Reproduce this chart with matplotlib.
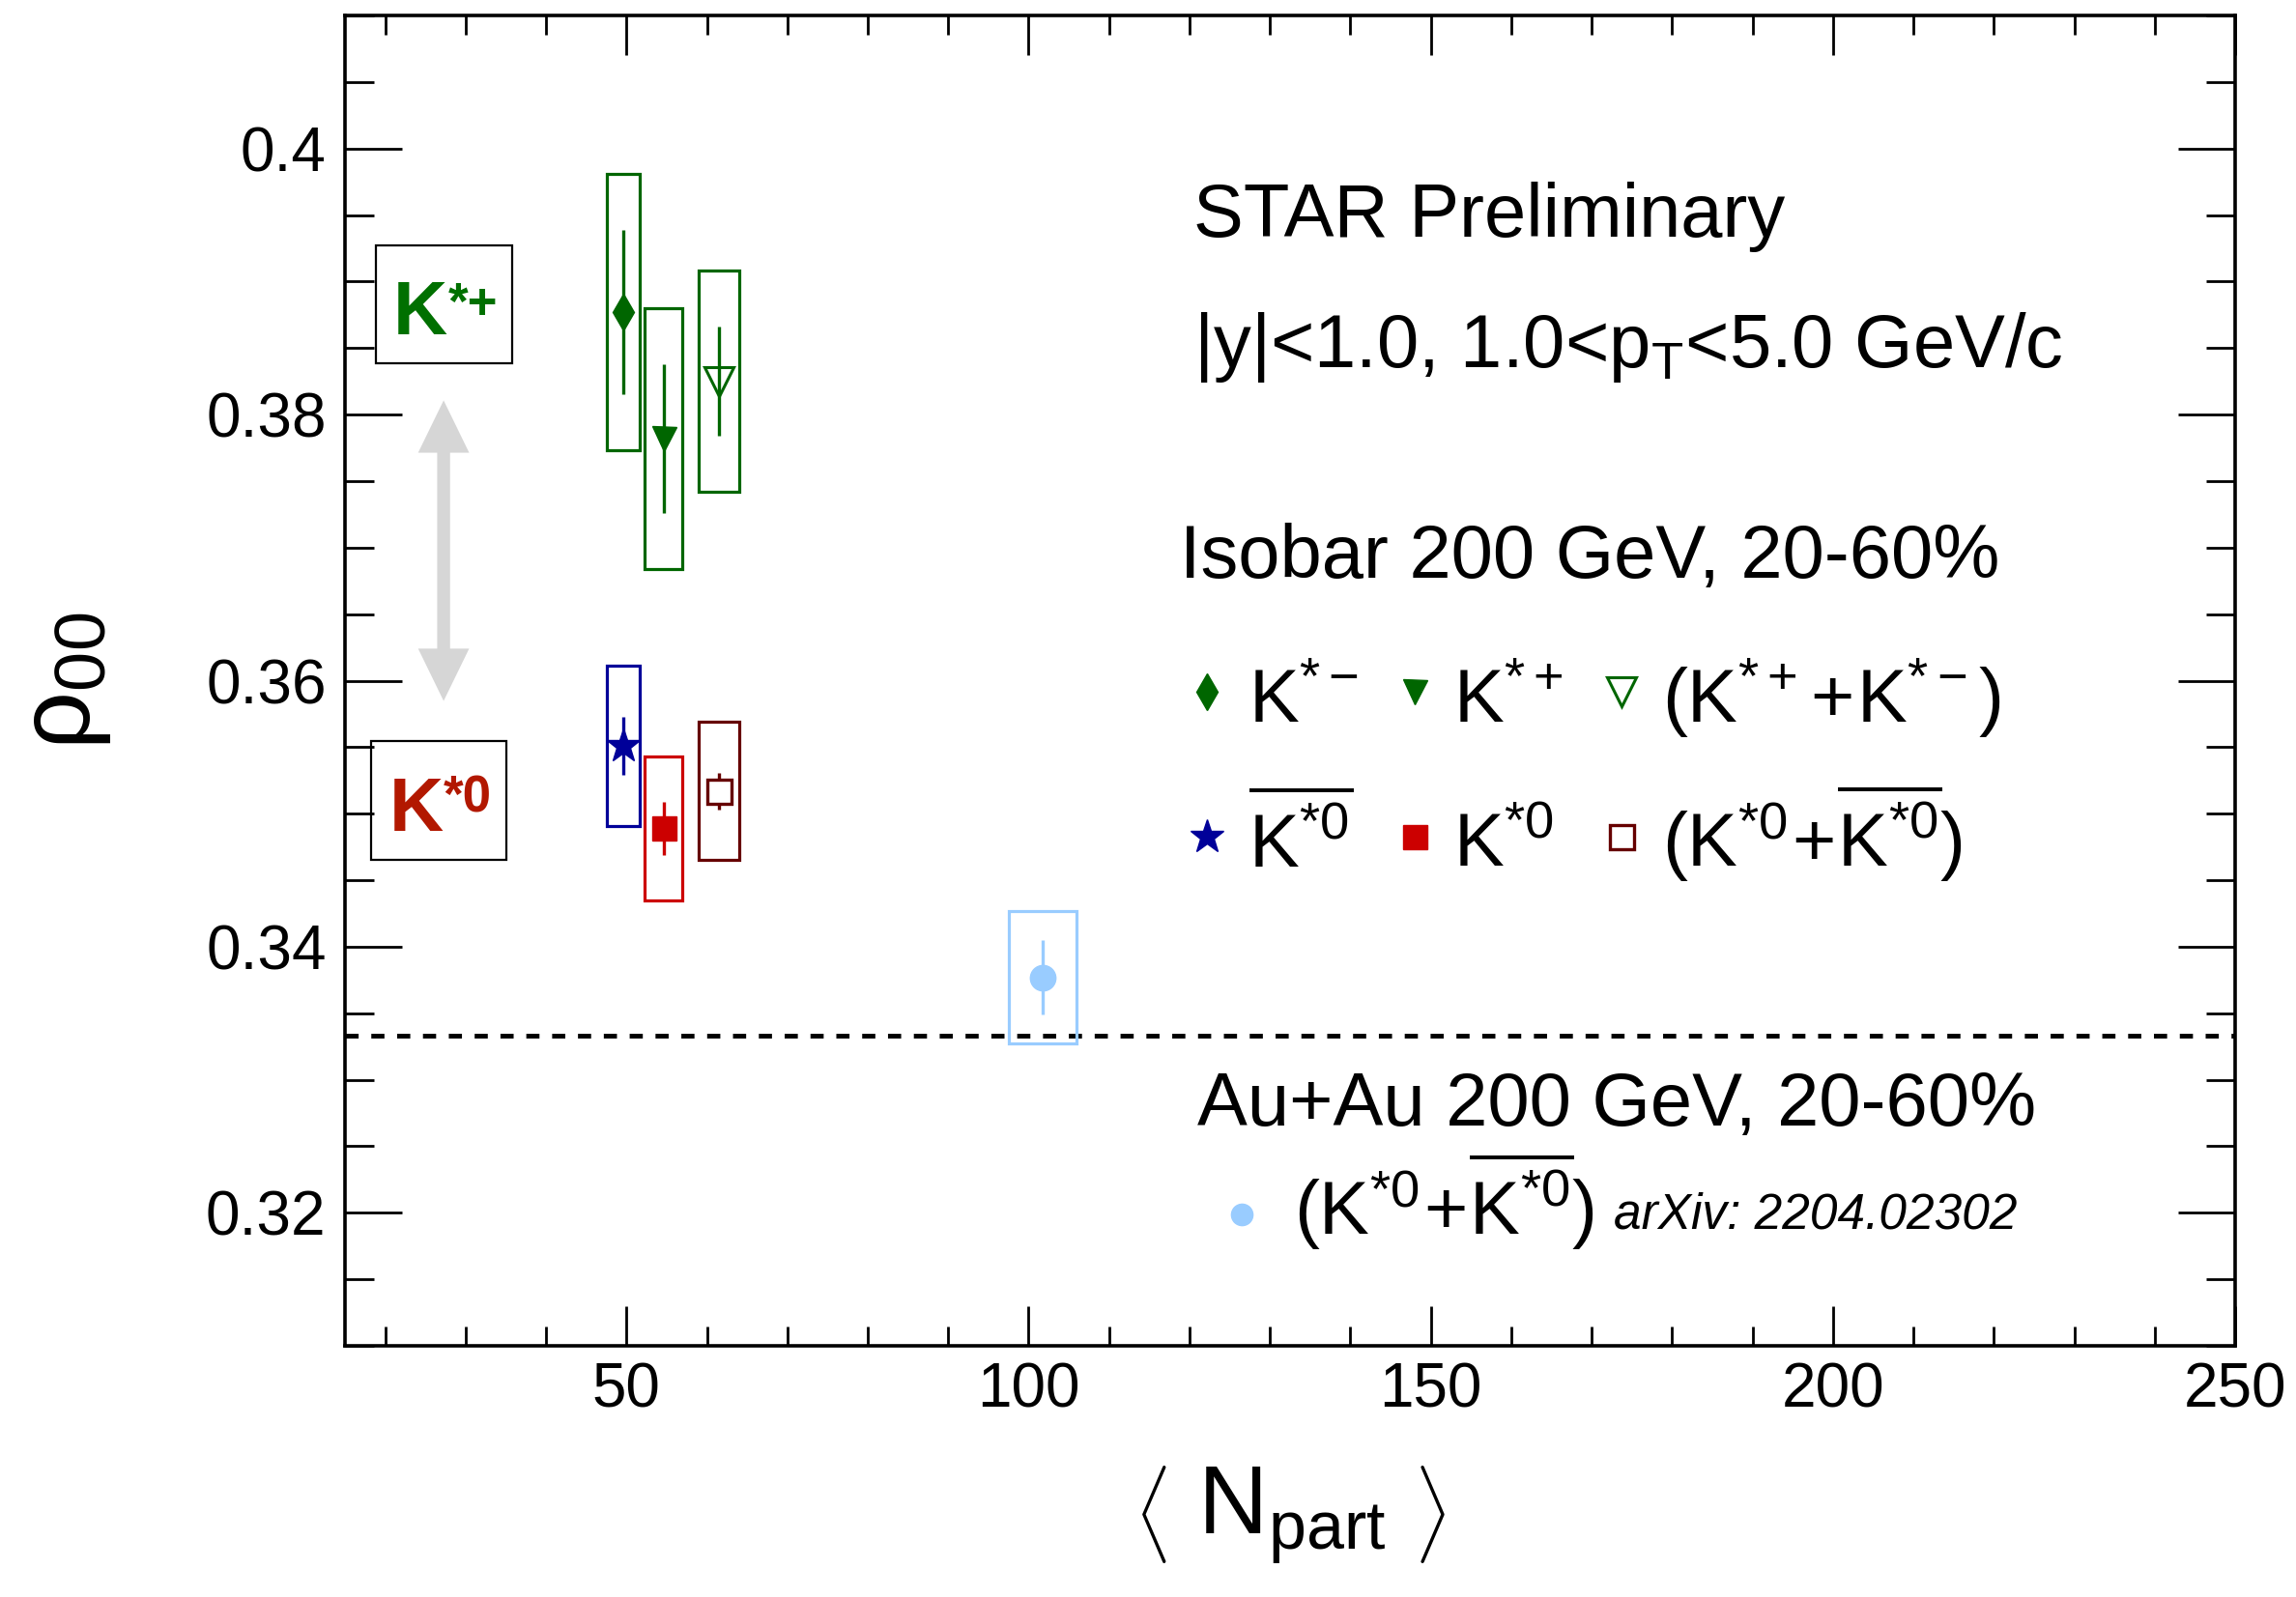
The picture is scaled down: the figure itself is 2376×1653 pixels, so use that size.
import numpy as np
import matplotlib
matplotlib.use("Agg")
import matplotlib.pyplot as plt
import matplotlib.transforms as mtransforms
from matplotlib.patches import Rectangle, Polygon
from matplotlib.ticker import MultipleLocator, FuncFormatter

plt.rcParams['font.family'] = ['Liberation Sans', 'DejaVu Sans']
plt.rcParams['mathtext.fontset'] = 'custom'
plt.rcParams['mathtext.rm'] = 'Liberation Sans'
plt.rcParams['mathtext.it'] = 'Liberation Sans:italic'
plt.rcParams['mathtext.bf'] = 'Liberation Sans:bold'
plt.rcParams['mathtext.sf'] = 'Liberation Sans'

# Isobar 200 GeV, 20-60%: <Npart> per species (slightly shifted for visibility)
isobar_npart = [49.6, 54.6, 61.5]
box_halfwidth = [2.1, 2.3, 2.55]

# charged K*: K*-, K*+, (K*+ + K*-)
rho_charged = [0.3877, 0.3782, 0.3825]
stat_charged = [0.0062, 0.0056, 0.0041]
sys_charged = [0.0104, 0.0098, 0.0083]

# neutral K*: K*0bar, K*0, (K*0 + K*0bar)
rho_neutral = [0.3551, 0.3489, 0.3517]
stat_neutral = [0.0022, 0.0020, 0.0014]
sys_neutral = [0.0060, 0.0054, 0.0052]

# Au+Au 200 GeV, 20-60% (arXiv: 2204.02302)
auau_npart = [101.7]
auau_rho = [0.3377]
auau_stat = [0.0028]
auau_sys = [0.0050]
auau_halfwidth = [4.2]

rho_nospin = 1.0 / 3.0

green = '#006600'
charged_style = [
    dict(marker='d', color=green, mfc=green, ms=19),
    dict(marker='v', color=green, mfc=green, ms=18),
    dict(marker='v', color=green, mfc='none', ms=21, mew=2.2),
]
neutral_style = [
    dict(marker='*', color='#000099', mfc='#000099', ms=26),
    dict(marker='s', color='#cc0000', mfc='#cc0000', ms=18),
    dict(marker='s', color='#660000', mfc='white', ms=18, mew=2.4),
]
auau_style = dict(marker='o', color='#99ccff', mfc='#99ccff', ms=19)

fig = plt.figure(figsize=(23.76, 16.53), dpi=100)
ax = fig.add_axes([0.15025, 0.15729, 0.82323, 0.83303])


def draw_points(x, y, stat, sys, hw, style):
    c = style['color']
    ax.add_patch(Rectangle((x - hw, y - sys), 2 * hw, 2 * sys, fill=False,
                           edgecolor=c, lw=2.3, zorder=2))
    ax.errorbar([x], [y], yerr=[stat], fmt=style['marker'], color=c,
                mfc=style['mfc'], mec=c, ms=style['ms'], mew=style.get('mew', 1),
                elinewidth=2.4, capsize=0, zorder=3)


for i in range(3):
    draw_points(isobar_npart[i], rho_charged[i], stat_charged[i], sys_charged[i],
                box_halfwidth[i], charged_style[i])
    draw_points(isobar_npart[i], rho_neutral[i], stat_neutral[i], sys_neutral[i],
                box_halfwidth[i], neutral_style[i])
draw_points(auau_npart[0], auau_rho[0], auau_stat[0], auau_sys[0],
            auau_halfwidth[0], auau_style)

ax.axhline(rho_nospin, color='black', lw=3.5, dashes=(2.8, 2.7), zorder=1)

ax.set_xlim(15, 250)
ax.set_ylim(0.31, 0.41)
ax.xaxis.set_major_locator(MultipleLocator(50))
ax.xaxis.set_minor_locator(MultipleLocator(10))
ax.yaxis.set_major_locator(MultipleLocator(0.02))
ax.yaxis.set_minor_locator(MultipleLocator(0.005))
ax.yaxis.set_major_formatter(FuncFormatter(lambda v, p: '%g' % round(v, 4)))

ax.tick_params(which='both', direction='in', top=True, right=True, width=2)
ax.tick_params(axis='x', which='major', length=29.5, labelsize=46, pad=12)
ax.tick_params(axis='x', which='minor', length=14.5)
ax.tick_params(axis='y', which='major', length=42.5, labelsize=46, pad=14)
ax.tick_params(axis='y', which='minor', length=21.5)
for sp in ax.spines.values():
    sp.set_linewidth(2.6)

ax.set_xlabel(r'$\left\langle\ \mathrm{N}_{\mathrm{part}}\ \right\rangle$', fontsize=72)
ax.xaxis.set_label_coords(0.5, -0.127)
ax.xaxis.label.set_va('center')
ax.set_ylabel(r'$\mathrm{\rho}_{\mathrm{00}}$', fontsize=76)
ax.yaxis.set_label_coords(-0.148, 0.5)
ax.yaxis.label.set_va('center')

# species labels and the gap arrow on the left
T = ax.transAxes
ax.add_patch(Rectangle((0.0164, 0.7386), 0.0721, 0.0886, transform=T, fill=False,
                       edgecolor='black', lw=1.6, zorder=4))
ax.text(0.0255, 0.7603, 'K', transform=T, color='#007000', fontsize=56,
        fontweight='bold', va='baseline', zorder=5)
ax.text(0.0545, 0.7720, '*+', transform=T, color='#007000', fontsize=38,
        fontweight='bold', va='baseline', zorder=5)
ax.add_patch(Rectangle((0.0140, 0.3654), 0.0712, 0.0894, transform=T, fill=False,
                       edgecolor='black', lw=1.6, zorder=4))
ax.text(0.0235, 0.3871, 'K', transform=T, color='#b21800', fontsize=56,
        fontweight='bold', va='baseline', zorder=5)
ax.text(0.0521, 0.4009, '*0', transform=T, color='#b21800', fontsize=38,
        fontweight='bold', va='baseline', zorder=5)

L, hl, hw, sw = 112, 39, 19, 4.8
arrow_pts = [(0, L), (hw, L - hl), (sw, L - hl), (sw, -(L - hl)), (hw, -(L - hl)),
             (0, -L), (-hw, -(L - hl)), (-sw, -(L - hl)), (-sw, L - hl), (-hw, L - hl)]
arrow_tr = (mtransforms.Affine2D().scale(1 / 72.) + fig.dpi_scale_trans +
            mtransforms.ScaledTranslation(0.0522, 0.5977, T))
ax.add_patch(Polygon(arrow_pts, closed=True, transform=arrow_tr, facecolor='#d6d6d6',
                     edgecolor='none', zorder=1))

# annotations
fs = 56
ax.text(0.449, 0.8337, 'STAR Preliminary', transform=T, fontsize=fs, va='baseline')
ax.text(0.449, 0.7357, r'|y|<1.0, 1.0<p$_{\mathrm{T}}$<5.0 GeV/c', transform=T,
        fontsize=fs, va='baseline')
ax.text(0.4417, 0.5773, 'Isobar 200 GeV, 20-60%', transform=T, fontsize=fs, va='baseline')

legend_x = [0.456, 0.566, 0.6754]
text_x = [0.478, 0.5864, 0.6968]
charged_labels = [r'$\mathrm{K}^{*-}$', r'$\mathrm{K}^{*+}$',
                  r'$(\mathrm{K}^{*+}\!+\!\mathrm{K}^{*-})$']
neutral_labels = [r'$\overline{\mathrm{K}^{*0}}$', r'$\mathrm{K}^{*0}$',
                  r'$(\mathrm{K}^{*0}\!+\!\overline{\mathrm{K}^{*0}})$']
for i in range(3):
    for st, lab, ym, yt in [(charged_style[i], charged_labels[i], 0.4916, 0.4684),
                            (neutral_style[i], neutral_labels[i], 0.3827, 0.3602)]:
        ax.plot([legend_x[i]], [ym], st['marker'], color=st['color'], mfc=st['mfc'],
                mec=st['color'], ms=st['ms'], mew=st.get('mew', 1), transform=T,
                clip_on=False)
        ax.text(text_x[i], yt, lab, transform=T, fontsize=fs, va='baseline')

ax.text(0.4509, 0.1656, 'Au+Au 200 GeV, 20-60%', transform=T, fontsize=fs, va='baseline')
ax.plot([0.4744], [0.0988], 'o', color=auau_style['color'], ms=16, transform=T)
ax.text(0.502, 0.0835, r'$(\mathrm{K}^{*0}\!+\!\overline{\mathrm{K}^{*0}})$', transform=T,
        fontsize=fs, va='baseline')
ax.text(0.6713, 0.0879, 'arXiv: 2204.02302', transform=T, fontsize=37, style='italic',
        va='baseline')

fig.savefig('out.png', dpi=100)
